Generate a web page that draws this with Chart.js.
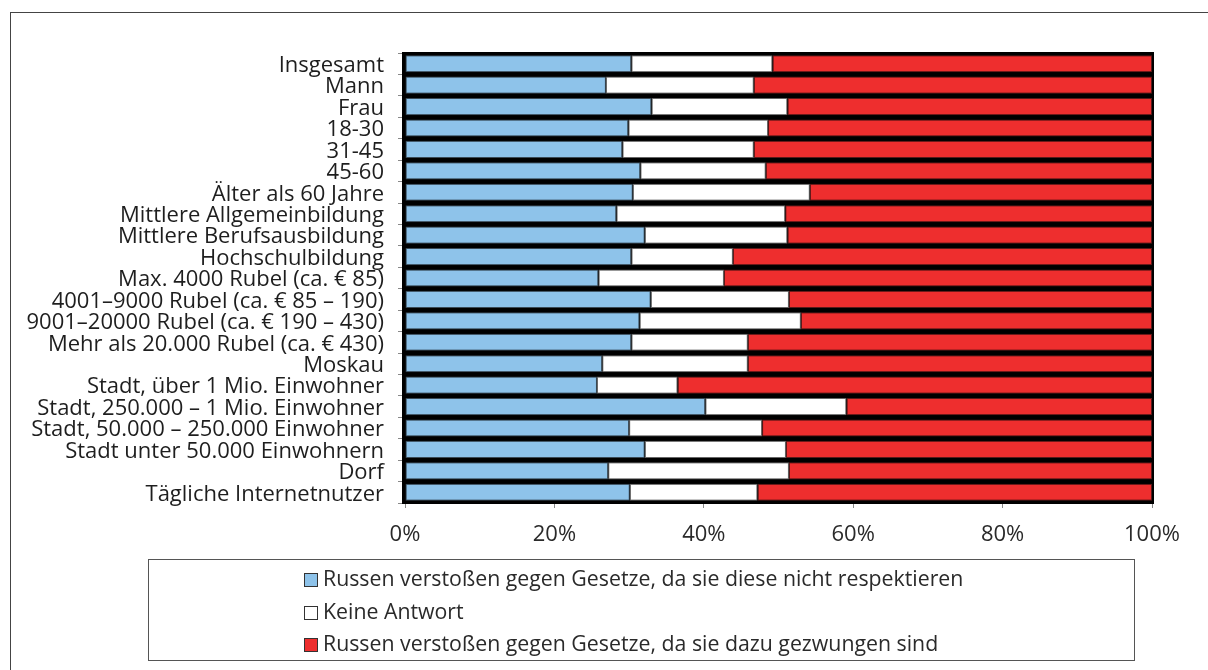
<!DOCTYPE html>
<html>
<head>
<meta charset="utf-8">
<script src="https://cdn.jsdelivr.net/npm/chart.js@4"></script>
<style>
  html, body { margin: 0; padding: 0; background: #fff; overflow: hidden; }
  #wrap { position: relative; width: 1208px; height: 670px; }
  #frame { position: absolute; left: 10px; top: 12px; width: 1400px; height: 800px; border: 1px solid #444; }
  #plot { position: absolute; left: 0; top: 0; }
  #legend { position: absolute; left: 148px; top: 559px; width: 985px; height: 100px;
    border: 1px solid #555; font-family: "Open Sans", sans-serif; font-size: 21.3px; color: #2a2a2a; }
  .item { position: absolute; left: 155px; height: 24px; line-height: 24px; white-space: nowrap; }
  .box { display: inline-block; width: 12px; height: 12px; border: 1px solid #333; margin-right: 5px; vertical-align: -1px; }
</style>
</head>
<body>
<div id="wrap">
  <div id="frame"></div>
  <canvas id="plot" width="1208" height="670"></canvas>
  <div id="legend"></div>
</div>
<script>
const categories = [
  "Insgesamt", "Mann", "Frau", "18-30", "31-45", "45-60", "Älter als 60 Jahre",
  "Mittlere Allgemeinbildung", "Mittlere Berufsausbildung", "Hochschulbildung",
  "Max. 4000 Rubel (ca. € 85)", "4001–9000 Rubel (ca. € 85 – 190)",
  "9001–20000 Rubel (ca. € 190 – 430)", "Mehr als 20.000 Rubel (ca. € 430)",
  "Moskau", "Stadt, über 1 Mio. Einwohner", "Stadt, 250.000 – 1 Mio. Einwohner",
  "Stadt, 50.000 – 250.000 Einwohner", "Stadt unter 50.000 Einwohnern", "Dorf",
  "Tägliche Internetnutzer"
];
const seriesNames = [
  "Russen verstoßen gegen Gesetze, da sie diese nicht respektieren",
  "Keine Antwort",
  "Russen verstoßen gegen Gesetze, da sie dazu gezwungen sind"
];
const respektieren = [30.3, 26.9, 33.0, 29.9, 29.1, 31.5, 30.5, 28.3, 32.1, 30.3, 25.9, 32.9, 31.4, 30.3, 26.4, 25.7, 40.2, 30.0, 32.1, 27.2, 30.1];
const keineAntwort = [18.9, 19.8, 18.2, 18.7, 17.6, 16.8, 23.7, 22.6, 19.1, 13.6, 16.8, 18.5, 21.6, 15.6, 19.5, 10.8, 18.9, 17.8, 18.9, 24.2, 17.1];
const gezwungen = [50.8, 53.3, 48.8, 51.4, 53.3, 51.7, 45.8, 49.1, 48.8, 56.1, 57.3, 48.6, 47.0, 54.1, 54.1, 63.5, 40.9, 52.2, 49.0, 48.6, 52.8];
const xTicks = [0, 20, 40, 60, 80, 100];

const colors = ["#8ec3ea", "#ffffff", "#ee2e2e"];
const borders = ["#3a4a56", "#666666", "#5a1a1a"];
const font = { family: "'Open Sans', sans-serif", size: 22 };

// black background behind the bar rows
const blackRows = {
  id: "blackRows",
  beforeDatasetsDraw(chart) {
    const a = chart.chartArea;
    const ctx = chart.ctx;
    ctx.save();
    ctx.fillStyle = "#000";
    ctx.fillRect(a.left - 3, a.top - 1, a.right - a.left + 5, a.bottom - a.top + 2);
    ctx.restore();
  }
};

const data = {
  labels: categories,
  datasets: [respektieren, keineAntwort, gezwungen].map((d, i) => ({
    label: seriesNames[i],
    data: d,
    backgroundColor: colors[i],
    borderColor: borders[i],
    borderWidth: 1,
    borderSkipped: false,
    barPercentage: 0.8,
    categoryPercentage: 1
  }))
};

new Chart(document.getElementById("plot"), {
  type: "bar",
  data: data,
  plugins: [blackRows],
  options: {
    indexAxis: "y",
    responsive: false,
    animation: false,
    layout: { padding: { top: 53, right: 56, bottom: 116, left: 0 } },
    plugins: { legend: { display: false }, tooltip: { enabled: false } },
    scales: {
      x: {
        stacked: true,
        min: 0,
        max: 100,
        afterBuildTicks(axis) { axis.ticks = xTicks.map(v => ({ value: v })); },
        afterFit(axis) { axis.height = 51; },
        ticks: { font: font, color: "#2a2a2a", padding: 14, callback: v => v + "%" },
        grid: { drawOnChartArea: false, tickLength: 5, color: "#888" },
        border: { color: "#888" }
      },
      y: {
        stacked: true,
        afterFit(axis) { axis.width = 405; },
        ticks: { font: font, color: "#1e1e1e", padding: 14, autoSkip: false, labelOffset: 2 },
        grid: { drawOnChartArea: false, tickLength: 7, color: "#888", offset: true },
        border: { color: "#888" }
      }
    }
  }
});

// legend, one entry per row
const legend = document.getElementById("legend");
seriesNames.forEach((name, i) => {
  const row = document.createElement("div");
  row.className = "item";
  row.style.top = (6 + i * 32.5) + "px";
  row.innerHTML = '<span class="box" style="background:' + colors[i] + '"></span>' + name;
  legend.appendChild(row);
});
</script>
</body>
</html>
